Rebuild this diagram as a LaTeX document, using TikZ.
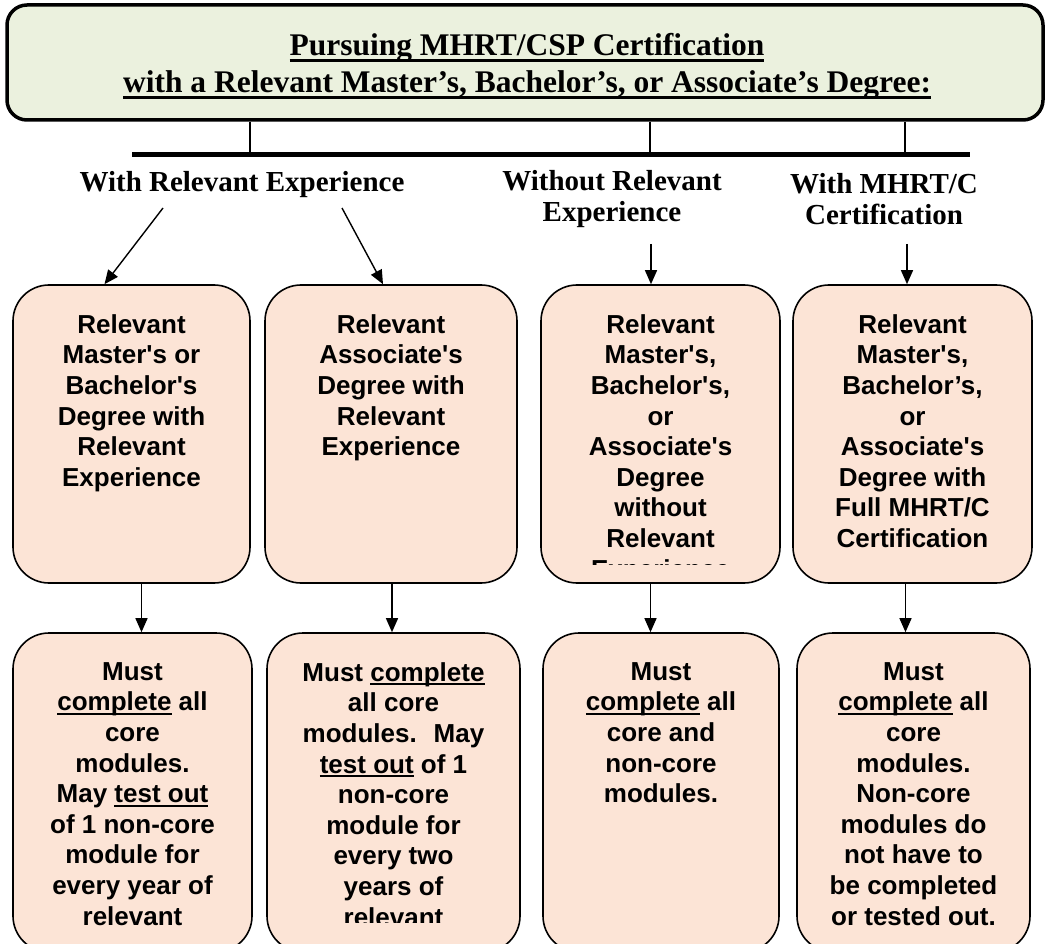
\documentclass[tikz,border=0pt]{standalone}
\usepackage{fontspec}
\setmainfont{Liberation Serif}
\setsansfont{Liberation Sans}[Ligatures=TeXOff]
\usetikzlibrary{arrows.meta,positioning}
\definecolor{sage}{HTML}{EBF1DE}
\definecolor{peach}{HTML}{FCE4D6}
\newsavebox\stressbox
\newcommand\stress[1]{\sbox\stressbox{#1}\rlap{\rule[-4pt]{\wd\stressbox}{2pt}}\usebox\stressbox}
\newcommand\headline[1]{\sbox\stressbox{#1}\rlap{\rule[-7pt]{\wd\stressbox}{3.5pt}}\usebox\stressbox}
\tikzset{
  stage/.style={draw, line width=1.6pt, fill=peach, rounded corners=36pt, inner sep=0pt},
  stagetext/.style={font=\sffamily\bfseries\fontsize{26}{30.6}\selectfont, align=center, inner sep=0pt, anchor=north},
  route/.style={font=\bfseries\fontsize{29}{31}\selectfont, align=center, inner sep=0pt},
  arr/.style={-{Triangle[length=14pt,width=12pt]}, line width=1.4pt}
}

\begin{document}
\begin{tikzpicture}[x=1pt, y=-1pt]
\useasboundingbox (0,0) rectangle (1045,944);
\node[draw, line width=3.5pt, fill=sage, rounded corners=20pt, minimum width=1036pt, minimum height=115pt] (head) at (525,62.5) {};
\node[font=\bfseries\fontsize{31.5}{37}\selectfont, align=center, inner sep=0pt] (headtext) at (527,66) {\headline{Pursuing MHRT/CSP Certification}\\\headline{with a Relevant Master's, Bachelor's, or Associate's Degree:}};

\coordinate (bl) at (132,154.5);
\coordinate (br) at (970,154.5);
\coordinate (j1) at (250,154.5);
\coordinate (j2) at (650,154.5);
\coordinate (j3) at (905,154.5);
\draw[line width=5.5pt] (bl) -- (br);
\foreach \j in {j1,j2,j3} \draw[line width=1.4pt] (head.south -| \j) -- (\j);

\node[route] (l1) at (242,185) {With Relevant Experience};
\node[route] (l2) at (612,199) {Without Relevant\\Experience};
\node[route] (l3) at (884,199) {With MHRT/C\\Certification};

\node[stage, minimum width=237pt, minimum height=298pt] (b11) at (131.5,434) {};
\node[stage, minimum width=252pt, minimum height=298pt] (b12) at (391,434) {};
\node[stage, minimum width=239pt, minimum height=298pt] (b13) at (660.5,434) {};
\node[stage, minimum width=239pt, minimum height=298pt] (b14) at (912.5,434) {};

\node[stage, minimum width=239pt, minimum height=319pt] (b21) at (132.5,792.5) {};
\node[stage, minimum width=253pt, minimum height=319pt] (b22) at (393.5,792.5) {};
\node[stage, minimum width=236pt, minimum height=319pt] (b23) at (661,792.5) {};
\node[stage, minimum width=233pt, minimum height=319pt] (b24) at (913.5,792.5) {};

\node[stagetext, below=30pt of b11.north] (t11) {Relevant\\Master's or\\Bachelor's\\Degree with\\Relevant\\Experience};
\node[stagetext, below=30pt of b12.north] (t12) {Relevant\\Associate's\\Degree with\\Relevant\\Experience};
\begin{scope}
\clip (530,250) rectangle (790,564);
\node[stagetext, below=30pt of b13.north] (t13) {Relevant\\Master's,\\Bachelor's,\\or\\Associate's\\Degree\\without\\Relevant\\Experience};
\end{scope}
\node[stagetext, below=30pt of b14.north] (t14) {Relevant\\Master's,\\Bachelor’s,\\or\\Associate's\\Degree with\\Full MHRT/C\\Certification};

\node[stagetext, below=30pt of b21.north] (t21) {Must\\\stress{complete} all\\core\\modules.\\May \stress{test out}\\of 1 non-core\\module for\\every year of\\relevant};
\begin{scope}
\clip (260,600) rectangle (530,922);
\node[stagetext, below=30pt of b22.north] (t22) {Must \stress{complete}\\all core\\modules.~ May\\\stress{test out} of 1\\non-core\\module for\\every two\\years of\\relevant};
\end{scope}
\node[stagetext, below=30pt of b23.north] (t23) {Must\\\stress{complete} all\\core and\\non-core\\modules.};
\node[stagetext, below=30pt of b24.north] (t24) {Must\\\stress{complete} all\\core\\modules.\\Non-core\\modules do\\not have to\\be completed\\or tested out.};

\coordinate (s1) at (163,208);
\coordinate (s2) at (342,208);
\coordinate (s3) at (651,244);
\coordinate (s4) at (907,244);
\draw[arr] (s1) -- ([xshift=-27pt]b11.north);
\draw[arr] (s2) -- ([xshift=-8pt]b12.north);
\draw[arr] (s3) -- (s3 |- b13.north);
\draw[arr] (s4) -- (s4 |- b14.north);

\foreach \a/\b/\dx in {b11/b21/10, b12/b22/1, b13/b23/-10, b14/b24/-7}
  \draw[arr] ([xshift=\dx pt]\a.south) -- ([xshift=\dx pt]\a.south |- \b.north);
\end{tikzpicture}
\end{document}
